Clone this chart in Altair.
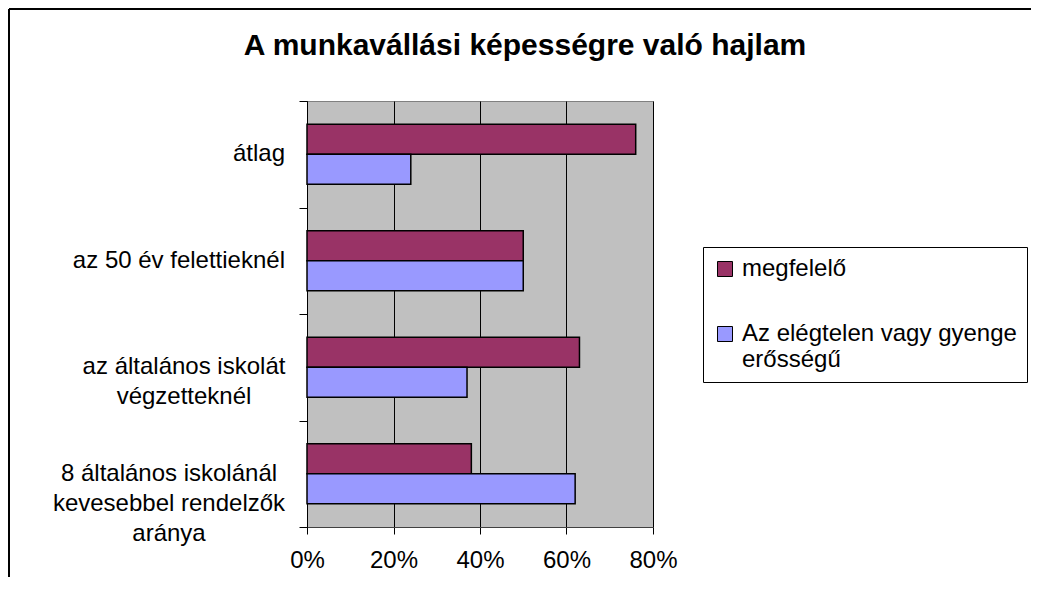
import altair as alt
import pandas as pd

categories = [
    "átlag",
    "az 50 év felettieknél",
    "az általános iskolát\nvégzetteknél",
    "8 általános iskolánál\nkevesebbel rendelzők\naránya",
]
series = ["megfelelő", "Az elégtelen vagy gyenge erősségű"]
megfelelo = [0.76, 0.50, 0.63, 0.38]
elegtelen = [0.24, 0.50, 0.37, 0.62]
x_ticks = [0, 0.2, 0.4, 0.6, 0.8]
title_text = "A munkavállási képességre való hajlam"
colors = ["#993366", "#9999FF"]

rows = []
for c, a, b in zip(categories, megfelelo, elegtelen):
    rows.append({"cat": c, "series": series[0], "value": a})
    rows.append({"cat": c, "series": series[1], "value": b})
df = pd.DataFrame(rows)
cat_df = pd.DataFrame({"cat": categories})

FONT = "Liberation Sans"
W, H = 346, 426
PL, PT, PR, PB = 299, 93, 378, 50

y_enc = alt.Y(
    "cat:N",
    sort=categories,
    title=None,
    scale=alt.Scale(paddingInner=0, paddingOuter=0),
    axis=alt.Axis(
        labels=False,
        tickBand="extent",
        tickSize=8,
        tickColor="black",
        domainColor="black",
        grid=False,
    ),
)

bars = alt.Chart(df).mark_bar(stroke="black", strokeWidth=1.5).encode(
    y=y_enc,
    yOffset=alt.YOffset(
        "series:N", sort=series, scale=alt.Scale(paddingInner=0, paddingOuter=0.775)
    ),
    x=alt.X(
        "value:Q",
        title=None,
        scale=alt.Scale(domain=[0, 0.8], nice=False),
        axis=alt.Axis(
            values=x_ticks,
            format=".0%",
            labelFont=FONT,
            labelFontSize=24,
            labelColor="black",
            labelPadding=14,
            labelFlush=False,
            tickSize=7,
            tickColor="black",
            domainColor="#404040",
            grid=True,
            gridColor="black",
            gridWidth=1,
        ),
    ),
    color=alt.Color(
        "series:N",
        sort=series,
        scale=alt.Scale(domain=series, range=colors),
        legend=alt.Legend(
            title=None,
            orient="none",
            legendX=396,
            legendY=146,
            strokeColor="black",
            fillColor="white",
            padding=10,
            symbolType="square",
            symbolSize=225,
            symbolStrokeColor="black",
            symbolStrokeWidth=1,
            labelFont=FONT,
            labelFontSize=24,
            labelColor="black",
            labelLimit=400,
            labelOffset=5,
            rowPadding=41,
            labelExpr="datum.label == 'Az elégtelen vagy gyenge erősségű' ? ['Az elégtelen vagy gyenge', 'erősségű'] : datum.label",
        ),
    ),
)


def label_layer(test, align, xpos):
    return (
        alt.Chart(cat_df)
        .transform_filter(test)
        .mark_text(
            align=align, baseline="middle", font=FONT, fontSize=24, color="black",
            lineBreak="\n", lineHeight=30,
        )
        .encode(y=alt.Y("cat:N", sort=categories), x=alt.value(xpos), text="cat:N")
    )


labels_single = label_layer("indexof(datum.cat, '\\n') < 0", "right", -22)
labels_two = label_layer("indexof(datum.cat, 'végzetteknél') >= 0", "center", -123)
labels_three = label_layer("indexof(datum.cat, 'aránya') >= 0", "center", -138)

border_left = alt.Chart(cat_df).mark_rule(color="black", strokeWidth=1.5).encode(
    x=alt.value(-PL + 1), y=alt.value(-PT + 1), y2=alt.value(H + PB)
)
border_top = alt.Chart(cat_df).mark_rule(color="black", strokeWidth=1.5).encode(
    x=alt.value(-PL + 1), x2=alt.value(W + PR), y=alt.value(-PT + 1)
)

chart = (
    alt.layer(bars, labels_single, labels_two, labels_three, border_left, border_top)
    .properties(
        width=W,
        height=H,
        autosize=alt.AutoSizeParams(type="none"),
        padding={"left": PL, "top": PT, "right": PR, "bottom": PB},
        title=alt.TitleParams(
            title_text,
            font=FONT,
            fontSize=30,
            fontWeight="bold",
            color="black",
            anchor="middle",
            dx=45,
            offset=-53,
        ),
        background="white",
    )
    .configure_view(fill="#C0C0C0", stroke="#808080", strokeWidth=1)
)

chart.save("out.html", embed_options={"renderer": "svg", "actions": False})
